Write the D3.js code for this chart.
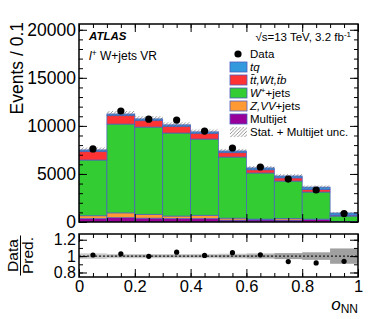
<!DOCTYPE html>
<html><head><meta charset="utf-8">
<script src="https://cdn.jsdelivr.net/npm/d3@7"></script>
<style>
body{margin:0;background:#fff;}
svg{display:block;font-family:"Liberation Sans",Arial,Helvetica,sans-serif;}
</style></head>
<body><svg id="c" width="378" height="319"></svg>
<script>
const binLo = [0,0.1,0.2,0.3,0.4,0.5,0.6,0.7,0.8,0.9];
const binHi = [0.1,0.2,0.3,0.4,0.5,0.6,0.7,0.8,0.9,1.0];
const multijet = [350,450,400,350,350,200,220,200,250,30];
const zvv      = [300,500,400,270,350,200,80,150,50,20];
const wjets    = [5800,9240,9080,8640,7930,6360,4800,3910,2820,570];
const ttbar    = [900,900,700,700,600,450,330,330,280,100];
const tq       = [150,150,150,150,150,180,200,200,230,220];
const data     = [7600,11550,10700,10600,9460,7700,5720,4470,3330,880];
const uncTot   = [250,300,280,260,250,220,200,180,170,90];
const uncStat  = [40,110,110,100,100,110,110,170,160,85];
const yTicks = [0,5000,10000,15000,20000];
const xTicks = [0,0.2,0.4,0.6,0.8,1];
const rTicks = [0.8,1,1.2];

const series = [
  {name:"Multijet", vals:multijet, color:"#990099"},
  {name:"Z,VV+jets", vals:zvv, color:"#ff9933"},
  {name:"W+jets", vals:wjets, color:"#33cc33"},
  {name:"tt", vals:ttbar, color:"#ff3333"},
  {name:"tq", vals:tq, color:"#3399dd"}
];
const edge = "#4d5cc0";

const svg = d3.select("#c");
const L=79, R=358, T=24, B=222, RT=234, RB=277;
const x = d3.scaleLinear([0,1],[L,R]);
const y = d3.scaleLinear([0,20600],[B,T]);
const yr = d3.scaleLinear([0.745,1.27],[RB,RT]);

const defs = svg.append("defs");
const pat = defs.append("pattern").attr("id","hatch").attr("patternUnits","userSpaceOnUse")
  .attr("width",3.5).attr("height",3.5);
pat.append("path").attr("d","M-1,1 l2,-2 M0,3.5 l3.5,-3.5 M2.5,4.5 l2,-2")
  .attr("stroke","#666").attr("stroke-width",0.7);
defs.append("clipPath").attr("id","mainclip").append("rect").attr("x",L).attr("y",T).attr("width",R-L).attr("height",B-T);

// stack
const rows = binLo.map((lo,i)=>{ const o={i}; series.forEach((s,k)=>o["s"+k]=s.vals[i]); return o;});
const stack = d3.stack().keys(series.map((s,k)=>"s"+k))(rows);
const gMain = svg.append("g").attr("clip-path","url(#mainclip)");
stack.forEach((layer,k)=>{
  gMain.selectAll(null).data(layer).enter().append("rect")
    .attr("x",(d,i)=>x(binLo[i])).attr("width",(d,i)=>x(binHi[i])-x(binLo[i]))
    .attr("y",d=>y(d[1])).attr("height",d=>y(d[0])-y(d[1]))
    .attr("fill",series[k].color).attr("stroke",edge).attr("stroke-width",0.7);
});
const totals = binLo.map((d,i)=>series.reduce((a,s)=>a+s.vals[i],0));
// hatched uncertainty
gMain.selectAll(null).data(totals).enter().append("rect")
  .attr("x",(d,i)=>x(binLo[i])).attr("width",(d,i)=>x(binHi[i])-x(binLo[i]))
  .attr("y",(d,i)=>y(d+uncTot[i])).attr("height",(d,i)=>y(d-uncTot[i])-y(d+uncTot[i]))
  .attr("fill","url(#hatch)");
// data points
svg.selectAll(null).data(data).enter().append("circle")
  .attr("cx",(d,i)=>x((binLo[i]+binHi[i])/2)).attr("cy",d=>y(d)).attr("r",3.6).attr("fill","#000");

// ratio panel
const gR = svg.append("g");
gR.selectAll(null).data(totals).enter().append("rect")
  .attr("x",(d,i)=>x(binLo[i])).attr("width",(d,i)=>x(binHi[i])-x(binLo[i]))
  .attr("y",(d,i)=>yr(1+uncTot[i]/d)).attr("height",(d,i)=>yr(1-uncTot[i]/d)-yr(1+uncTot[i]/d))
  .attr("fill","#cccccc");
gR.selectAll(null).data(totals).enter().append("rect")
  .attr("x",(d,i)=>x(binLo[i])).attr("width",(d,i)=>x(binHi[i])-x(binLo[i]))
  .attr("y",(d,i)=>yr(1+uncStat[i]/d)).attr("height",(d,i)=>yr(1-uncStat[i]/d)-yr(1+uncStat[i]/d))
  .attr("fill","#a0a0a0");
gR.append("line").attr("x1",L).attr("x2",R).attr("y1",yr(1)).attr("y2",yr(1))
  .attr("stroke","#000").attr("stroke-width",1).attr("stroke-dasharray","2,2");
gR.selectAll(null).data(data).enter().append("circle")
  .attr("cx",(d,i)=>x((binLo[i]+binHi[i])/2)).attr("cy",(d,i)=>yr(d/totals[i])).attr("r",2.6).attr("fill","#000");

// axes
function styleAxis(g){ g.select(".domain").remove(); g.selectAll("line").attr("stroke","#000").attr("stroke-width",1);
  g.selectAll("text").attr("font-family","Liberation Sans, Arial, sans-serif").attr("fill","#000"); }
const xMinor = d3.range(0,1.0001,0.05);
const yMinor = d3.range(0,20600,1000);
const rMinor = [0.8,0.9,1.0,1.1,1.2];
function xAxes(yTop,yBot,labels){
  svg.append("g").attr("transform",`translate(0,${yBot})`).call(d3.axisBottom(x).tickValues(xMinor).tickSize(-4).tickFormat("")).call(styleAxis);
  svg.append("g").attr("transform",`translate(0,${yTop})`).call(d3.axisTop(x).tickValues(xMinor).tickSize(-4).tickFormat("")).call(styleAxis);
  const gb = svg.append("g").attr("transform",`translate(0,${yBot})`).call(d3.axisBottom(x).tickValues(xTicks).tickSize(-8).tickPadding(3)
     .tickFormat(labels? d3.format("~g") : "")).call(styleAxis);
  gb.selectAll("text").attr("font-size",16.5);
  svg.append("g").attr("transform",`translate(0,${yTop})`).call(d3.axisTop(x).tickValues(xTicks).tickSize(-8).tickFormat("")).call(styleAxis);
}
xAxes(T,B,false);
xAxes(RT,RB,true);
// main y
svg.append("g").attr("transform",`translate(${L},0)`).call(d3.axisLeft(y).tickValues(yMinor).tickSize(-4).tickFormat("")).call(styleAxis);
svg.append("g").attr("transform",`translate(${R},0)`).call(d3.axisRight(y).tickValues(yMinor).tickSize(-4).tickFormat("")).call(styleAxis);
const gy = svg.append("g").attr("transform",`translate(${L},0)`).call(d3.axisLeft(y).tickValues(yTicks).tickSize(-8).tickPadding(3).tickFormat(d3.format("d"))).call(styleAxis);
gy.selectAll("text").attr("font-size",17.5);
svg.append("g").attr("transform",`translate(${R},0)`).call(d3.axisRight(y).tickValues(yTicks).tickSize(-8).tickFormat("")).call(styleAxis);
// ratio y
svg.append("g").attr("transform",`translate(${L},0)`).call(d3.axisLeft(yr).tickValues(rMinor).tickSize(-4).tickFormat("")).call(styleAxis);
svg.append("g").attr("transform",`translate(${R},0)`).call(d3.axisRight(yr).tickValues(rMinor).tickSize(-4).tickFormat("")).call(styleAxis);
const gry = svg.append("g").attr("transform",`translate(${L},0)`).call(d3.axisLeft(yr).tickValues(rTicks).tickSize(-8).tickPadding(3).tickFormat(d3.format("~g"))).call(styleAxis);
gry.selectAll("text").attr("font-size",16);
svg.append("g").attr("transform",`translate(${R},0)`).call(d3.axisRight(yr).tickValues(rTicks).tickSize(-8).tickFormat("")).call(styleAxis);

// frames
svg.append("rect").attr("x",L).attr("y",T).attr("width",R-L).attr("height",B-T).attr("fill","none").attr("stroke","#000").attr("stroke-width",1.5);
svg.append("rect").attr("x",L).attr("y",RT).attr("width",R-L).attr("height",RB-RT).attr("fill","none").attr("stroke","#000").attr("stroke-width",1.5);

// axis titles
svg.append("text").attr("transform","translate(23,22) rotate(-90)").attr("text-anchor","end")
  .attr("font-size",17.5).text("Events / 0.1");
const rl = svg.append("g").attr("transform","translate(0,255.5)");
rl.append("text").attr("transform","translate(17.5,0) rotate(-90)").attr("text-anchor","middle").attr("font-size",15.5).text("Data");
rl.append("line").attr("x1",20.5).attr("x2",20.5).attr("y1",-20).attr("y2",20).attr("stroke","#000").attr("stroke-width",1);
rl.append("text").attr("transform","translate(33,0) rotate(-90)").attr("text-anchor","middle").attr("font-size",15.5).text("Pred.");
const xt = svg.append("text").attr("x",358).attr("y",310).attr("text-anchor","end").attr("font-size",17);
xt.append("tspan").attr("font-style","italic").text("o");
xt.append("tspan").attr("font-size",12).attr("dy",3).text("NN");

// labels
svg.append("text").attr("x",89).attr("y",40).attr("font-size",11.5).attr("font-weight","bold").attr("font-style","italic").text("ATLAS");
const l2 = svg.append("text").attr("x",89).attr("y",60).attr("font-size",12);
l2.append("tspan").attr("font-style","italic").text("l");
l2.append("tspan").attr("dy",-4.5).attr("font-size",8.5).text("+");
l2.append("tspan").attr("dy",4.5).text(" W+jets VR");
const en = svg.append("text").attr("x",351).attr("y",41).attr("text-anchor","end").attr("font-size",11.5);
en.append("tspan").text("√s=13 TeV, 3.2 fb");
en.append("tspan").attr("dy",-4).attr("font-size",8).text("-1");

// legend
const lx=230, ly0=54, dy=13;
svg.append("circle").attr("cx",lx+8).attr("cy",ly0).attr("r",3.6).attr("fill","#000");
svg.append("text").attr("x",lx+20).attr("y",ly0+4).attr("font-size",11.5).text("Data");
const legItems = [
  {c:"#3399dd", t:[["tq","italic"]]},
  {c:"#ff3333", t:[["tt,Wt,tb","italic"]]},
  {c:"#33cc33", t:[["W","italic"],["+","sup"],["+jets",""]]},
  {c:"#ff9933", t:[["Z,VV","italic"],["+jets",""]]},
  {c:"#990099", t:[["Multijet",""]]}
];
legItems.forEach((it,j)=>{
  const cy = ly0+dy*(j+1);
  svg.append("rect").attr("x",lx).attr("y",cy-5).attr("width",17).attr("height",10).attr("fill",it.c).attr("stroke",edge).attr("stroke-width",0.8);
  const t = svg.append("text").attr("x",lx+20).attr("y",cy+4).attr("font-size",11.5);
  let sup=false;
  it.t.forEach(([s,st])=>{
    const ts = t.append("tspan").text(s);
    if(st==="italic") ts.attr("font-style","italic");
    if(st==="sup"){ ts.attr("font-size",8).attr("dy",-4); sup=true; }
    else if(sup){ ts.attr("dy",4); sup=false; }
  });
  if(j===1){ // bars over the anti-top quarks
    const node = t.node();
    [0,6].forEach(ci=>{
      let x0, w;
      try { x0 = node.getStartPositionOfChar(ci).x; w = node.getSubStringLength(ci,1); }
      catch(e){ x0 = lx+20+ci*3.2; w = 3.2; }
      svg.append("line").attr("x1",x0+1.3).attr("x2",x0+w+1.3).attr("y1",cy-5.5).attr("y2",cy-5.5)
        .attr("stroke","#000").attr("stroke-width",0.8);
    });
  }
});
const cyH = ly0+dy*6;
svg.append("rect").attr("x",lx).attr("y",cyH-5).attr("width",17).attr("height",10).attr("fill","url(#hatch)");
svg.append("text").attr("x",lx+20).attr("y",cyH+4).attr("font-size",11.5).text("Stat. + Multijet unc.");
</script></body></html>
